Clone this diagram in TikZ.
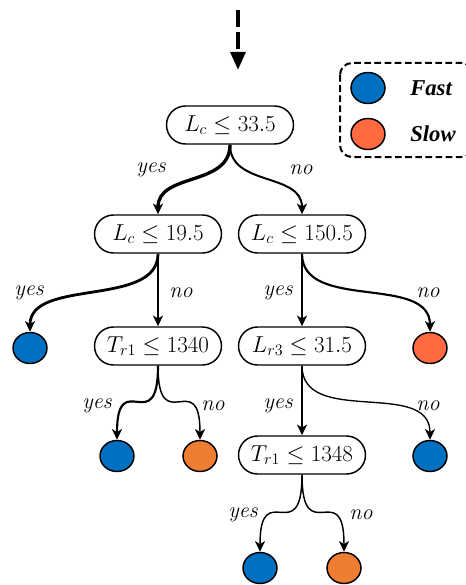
\documentclass[tikz,border=0pt]{standalone}
\usepackage{fontspec}
\newfontfamily\legendfont{Liberation Serif}
\usetikzlibrary{arrows.meta,shapes.geometric}
\definecolor{fastblue}{RGB}{0,112,192}
\definecolor{slowred}{RGB}{255,106,64}
\definecolor{slowor}{RGB}{237,125,49}

\begin{document}
\begin{tikzpicture}[x=0.75pt,y=-0.75pt,
  split/.style={draw, line width=1.1pt, rounded corners=14.25pt,
    minimum width=95.25pt, minimum height=28.5pt, inner sep=0pt,
    font=\fontsize{16.5}{18}\selectfont},
  leaf/.style={ellipse, draw, line width=1.1pt, minimum width=25.5pt,
    minimum height=23.25pt, inner sep=0pt},
  fastleaf/.style={leaf, fill=fastblue},
  slowleaf/.style={leaf, fill=slowred},
  slowleafb/.style={leaf, fill=slowor},
  edge/.style={-{Stealth[length=8pt,width=7.5pt,inset=2.2pt]}},
  lbl/.style={font=\fontsize{16.5}{18}\selectfont\itshape},
  legtext/.style={font=\fontsize{17}{19}\selectfont\legendfont\bfseries\itshape, anchor=west, inner sep=0pt}
]
\useasboundingbox (0,0) rectangle (466,585);
\begin{scope}
\clip (0,0) rectangle (466,585);

% incoming arrow
\coordinate (inA) at (238,10);
\coordinate (inB) at (238,70);
\draw[line width=3pt, dash pattern=on 12.75pt off 3.75pt,
  -{Triangle[length=13.5pt,width=11pt]}] (inA) -- (inB);

% legend
\draw[line width=1.5pt, dash pattern=on 5pt off 2.6pt, rounded corners=9pt]
  (340,63) rectangle (473,157);
\node[fastleaf] (kf) at (368,88) {};
\node[slowleaf] (ks) at (368,134) {};
\node[legtext] (kft) at (410,88) {Fast};
\node[legtext] (kst) at (410,134) {Slow};

% split nodes
\node[split] (r) at (230,125) {$L_c \leq 33.5$};
\node[split] (a) at (158,234) {$L_c \leq 19.5$};
\node[split] (b) at (302,234) {$L_c \leq 150.5$};
\node[split] (c) at (158,346) {$T_{r1} \leq 1340$};
\node[split] (d) at (302,346) {$L_{r3} \leq 31.5$};
\node[split] (e) at (302,455) {$T_{r1} \leq 1348$};

% leaves
\node[fastleaf] (l1) at (30,348) {};
\node[slowleaf] (l2) at (430,348) {};
\node[fastleaf] (l3) at (117,456) {};
\node[slowleafb] (l4) at (200,456) {};
\node[fastleaf] (l5) at (430,456) {};
\node[fastleaf] (l6) at (260,568) {};
\node[slowleafb] (l7) at (344,568) {};

% branches
\draw[edge, line width=2.5pt] (r.south) to[out=-90,in=90,distance=31.5pt] (a.north);
\draw[edge, line width=1.5pt] (r.south) to[out=-90,in=90,distance=31.5pt] (b.north);
\draw[edge, line width=2.1pt] (a.south) to[out=-90,in=90,distance=40.5pt] (l1.north);
\draw[edge, line width=1.2pt] (a.south) -- (c.north);
\draw[edge, line width=1.2pt] (b.south) -- (d.north);
\draw[edge, line width=1.6pt] (b.south) to[out=-90,in=90,distance=43.5pt] (l2.north);
\draw[edge, line width=1.6pt] (c.south) to[out=-90,in=90,distance=56pt] (l3.north);
\draw[edge, line width=1.1pt] (c.south) to[out=-90,in=90,distance=56pt] (l4.north);
\draw[edge, line width=1.2pt] (d.south) -- (e.north);
\draw[edge, line width=1.0pt] (d.south) to[out=-90,in=90,distance=46pt] (l5.north);
\draw[edge, line width=1.1pt] (e.south) to[out=-90,in=90,distance=57pt] (l6.north);
\draw[edge, line width=1.1pt] (e.south) to[out=-90,in=90,distance=57pt] (l7.north);

% branch labels
\node[lbl] (t1) at (151,170) {yes};
\node[lbl] (t2) at (301,170) {no};
\node[lbl] (t3) at (29,293) {yes};
\node[lbl] (t4) at (181,293) {no};
\node[lbl] (t5) at (278,293) {yes};
\node[lbl] (t6) at (428,293) {no};
\node[lbl] (t7) at (97,406) {yes};
\node[lbl] (t8) at (213,406) {no};
\node[lbl] (t9) at (278,406) {yes};
\node[lbl] (t10) at (428,406) {no};
\node[lbl] (t11) at (243,515) {yes};
\node[lbl] (t12) at (361,515) {no};
\end{scope}
\end{tikzpicture}
\end{document}
